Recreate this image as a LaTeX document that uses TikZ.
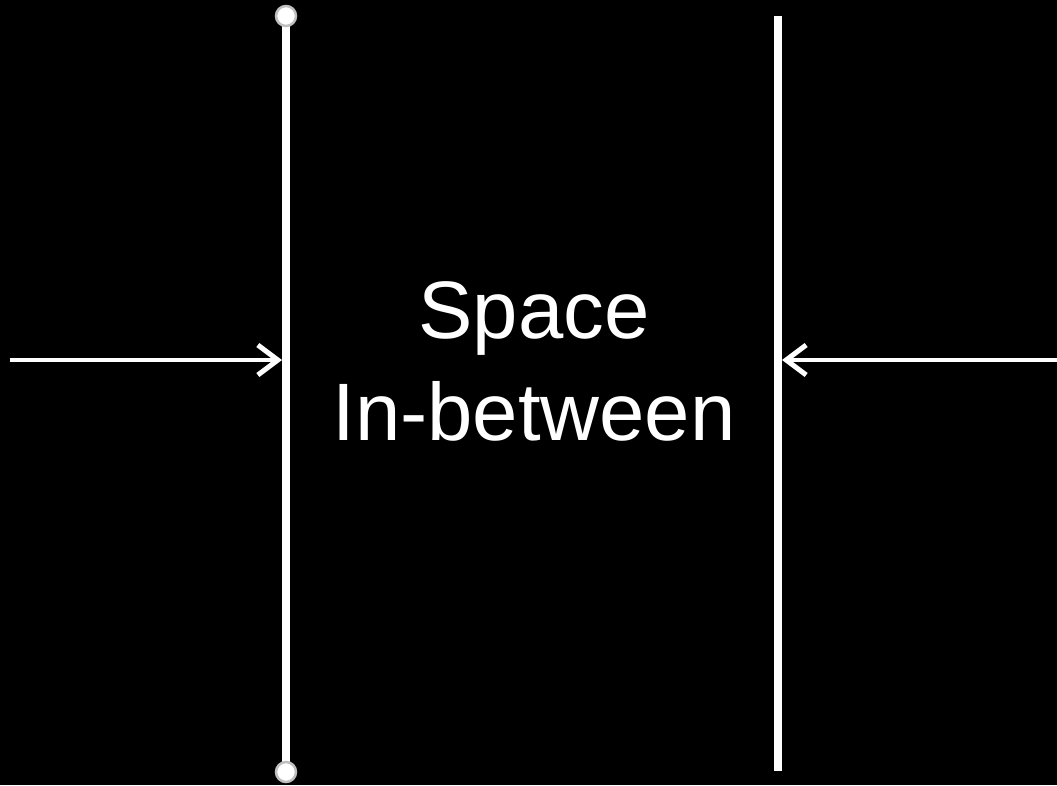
\documentclass[tikz,border=0pt]{standalone}
\usepackage{fontspec}
\setmainfont{Liberation Sans}
\usetikzlibrary{arrows.meta}
\begin{document}
\begin{tikzpicture}[x=1pt,y=-1pt,
  wall/.style={draw=white,line width=8pt},
  push/.style={draw=white,line width=3.5pt,-{Straight Barb[length=20pt,width=30pt,line width=5pt]}},
  handle/.style={circle,fill=white,draw=gray!50,line width=2.5pt,minimum size=20pt,inner sep=0pt},
  lbl/.style={text=white,font=\fontsize{81.5}{100}\selectfont,anchor=base,inner sep=0pt}]
\fill[black] (0,0) rectangle (1057,785);
\useasboundingbox (0,0) rectangle (1057,785);
\coordinate (lt) at (286,16);
\coordinate (lb) at (286,772);
\coordinate (rt) at (778,16);
\coordinate (rb) at (778,771);
\coordinate (la) at (10,360);
\coordinate (lh) at (282,360);
\coordinate (ra) at (1057,360);
\coordinate (rh) at (782,360);
\draw[wall] (lt) -- (lb);
\draw[wall] (rt) -- (rb);
\node[handle] (c1) at (lt) {};
\node[handle] (c2) at (lb) {};
\draw[push] (la) -- (lh);
\draw[push] (ra) -- (rh);
\node[lbl] (t1) at (534,338) {Space};
\node[lbl] (t2) at (534,440) {In-between};
\end{tikzpicture}
\end{document}
